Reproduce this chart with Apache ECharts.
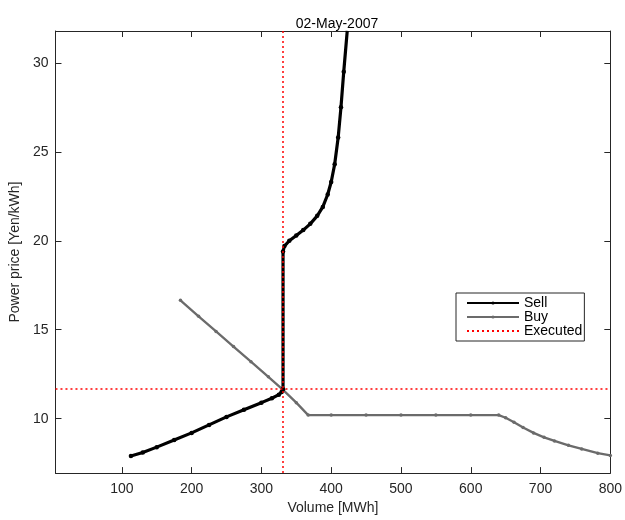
<!DOCTYPE html>
<html>
<head>
<meta charset="utf-8">
<script src="https://cdn.jsdelivr.net/npm/echarts@6/dist/echarts.min.js"></script>
<style>
html,body{margin:0;padding:0;background:#fff;}
#chart{width:625px;height:520px;}
</style>
</head>
<body>
<div id="chart"></div>
<script>
const titleText = '02-May-2007';
const xTicks = [100, 200, 300, 400, 500, 600, 700, 800];
const yTicks = [10, 15, 20, 25, 30];
const sellVolume = [113, 130, 150, 175, 200, 225, 250, 275, 300, 315, 325, 329, 331, 331, 333, 340, 350, 360, 370, 380, 388, 395, 400, 405, 410, 414, 418, 423];
const sellPrice  = [7.9, 8.1, 8.4, 8.8, 9.2, 9.65, 10.1, 10.5, 10.9, 11.15, 11.35, 11.5, 11.65, 19.4, 19.7, 20.0, 20.3, 20.6, 20.95, 21.4, 21.9, 22.6, 23.3, 24.3, 25.8, 27.5, 29.5, 31.8];
const buyVolume = [184, 210, 235, 260, 285, 310, 331, 350, 367, 400, 450, 500, 550, 600, 640, 650, 662, 675, 690, 705, 720, 740, 759, 782, 800];
const buyPrice  = [16.65, 15.75, 14.9, 14.05, 13.2, 12.35, 11.62, 10.9, 10.2, 10.2, 10.2, 10.2, 10.2, 10.2, 10.2, 10.05, 9.8, 9.5, 9.2, 8.95, 8.75, 8.5, 8.3, 8.06, 7.93];
const executedVolume = 331;
const executedPrice = 11.68;
const xRange = [4.9, 800];
const yRange = [6.94, 31.79];

const toPairs = (xs, ys) => xs.map((x, i) => [x, ys[i]]);
const axisColor = '#262626';
const font = 'Liberation Sans, Arial, Helvetica, sans-serif';

const chart = echarts.init(document.getElementById('chart'), null, {renderer: 'canvas'});
const commonAxis = {
  axisLine: {show: true, onZero: false, lineStyle: {color: axisColor, width: 1}},
  splitLine: {show: false}
};
chart.setOption({
  animation: false,
  backgroundColor: '#ffffff',
  title: {
    text: titleText, left: 332, top: 12, textAlign: 'center',
    textStyle: {fontFamily: font, fontSize: 14, fontWeight: 'normal', color: '#000'}
  },
  grid: {left: 52, right: 13, top: 31, bottom: 44, containLabel: false},
  legend: {
    orient: 'vertical', left: 456, top: 293,
    backgroundColor: '#fff', borderColor: axisColor, borderWidth: 1,
    padding: [3, 2, 3, 10], itemGap: 0, itemWidth: 52, itemHeight: 4,
    textStyle: {fontFamily: font, fontSize: 14, color: '#000', lineHeight: 14},
    data: [
      {name: 'Sell'},
      {name: 'Buy'},
      {name: 'Executed', itemStyle: {opacity: 0}}
    ]
  },
  xAxis: [
    Object.assign({}, commonAxis, {
      type: 'value', position: 'bottom', min: xRange[0], max: xRange[1],
      name: 'Volume [MWh]', nameLocation: 'middle', nameGap: 25,
      nameTextStyle: {fontFamily: font, fontSize: 14, color: axisColor},
      axisTick: {show: true, inside: true, length: 6, customValues: xTicks, lineStyle: {color: axisColor}},
      axisLabel: {show: true, customValues: xTicks, margin: 9, fontFamily: font, fontSize: 14, color: axisColor}
    }),
    Object.assign({}, commonAxis, {
      type: 'value', position: 'top', min: xRange[0], max: xRange[1],
      axisTick: {show: true, inside: true, length: 6, customValues: xTicks, lineStyle: {color: axisColor}},
      axisLabel: {show: false}
    })
  ],
  yAxis: [
    Object.assign({}, commonAxis, {
      type: 'value', position: 'left', min: yRange[0], max: yRange[1],
      name: 'Power price [Yen/kWh]', nameLocation: 'middle', nameGap: 28,
      nameTextStyle: {fontFamily: font, fontSize: 14, color: axisColor},
      axisTick: {show: true, inside: true, length: 6, customValues: yTicks, lineStyle: {color: axisColor}},
      axisLabel: {show: true, customValues: yTicks, margin: 7, fontFamily: font, fontSize: 14, color: axisColor}
    }),
    Object.assign({}, commonAxis, {
      type: 'value', position: 'right', min: yRange[0], max: yRange[1],
      axisTick: {show: true, inside: true, length: 6, customValues: yTicks, lineStyle: {color: axisColor}},
      axisLabel: {show: false}
    })
  ],
  series: [
    {
      name: 'Executed', type: 'line', data: [], symbol: 'none',
      itemStyle: {color: '#ff0000'},
      lineStyle: {color: '#ff0000', width: 1.5, type: [2, 3]},
      markLine: {
        silent: true, symbol: 'none', label: {show: false},
        lineStyle: {color: '#ff0000', width: 1.5, type: [2, 3]},
        data: [{xAxis: executedVolume}, {yAxis: executedPrice}]
      },
      z: 1
    },
    {
      name: 'Buy', type: 'line', data: toPairs(buyVolume, buyPrice),
      symbol: 'circle', symbolSize: 3.5, showSymbol: true,
      itemStyle: {color: '#6b6b6b'},
      lineStyle: {color: '#6b6b6b', width: 2.3},
      z: 2
    },
    {
      name: 'Sell', type: 'line', data: toPairs(sellVolume, sellPrice),
      symbol: 'circle', symbolSize: 4.5, showSymbol: true,
      itemStyle: {color: '#000000'},
      lineStyle: {color: '#000000', width: 3.2},
      z: 3
    }
  ]
});
</script>
</body>
</html>
